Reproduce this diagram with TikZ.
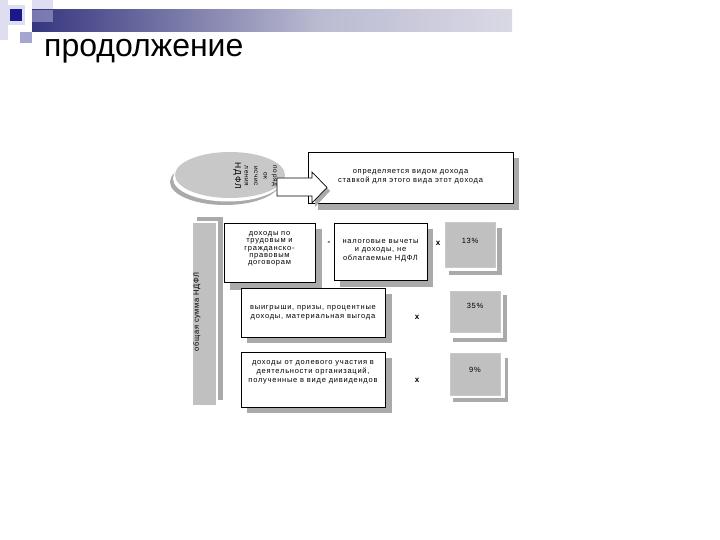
\documentclass[tikz,border=0pt]{standalone}
\usepackage{fontspec}
\setmainfont{Liberation Sans}
\newfontfamily\dfont[LetterSpace=10]{Liberation Sans}
\usetikzlibrary{calc,shapes.geometric}
\definecolor{navyb}{RGB}{30,30,112}
\definecolor{midlav}{RGB}{150,150,185}
\definecolor{lightlav}{RGB}{222,222,240}
\definecolor{medlav}{RGB}{165,165,210}
\definecolor{darkbl}{RGB}{25,25,140}
\definecolor{boxgray}{RGB}{192,192,192}
\definecolor{shgray}{RGB}{170,170,170}
\definecolor{ellgray}{RGB}{200,200,200}
\pgfdeclarehorizontalshading{hdr}{100bp}{color(0bp)=(navyb); color(25bp)=(navyb!80!midlav); color(55bp)=(midlav!65!white); color(100bp)=(white)}
\newcommand{\mylift}[2]{\raisebox{#1}[0pt][0pt]{\begin{tabular}{@{}c@{}}#2\end{tabular}}}
\tikzset{
  wbox/.style={draw=black, fill=white, line width=0.7pt, inner sep=0pt,
    font=\dfont\fontsize{7.5}{9}\selectfont},
  gbox/.style={fill=boxgray, draw=boxgray!85!white, line width=0.6pt, inner sep=0pt,
    font=\dfont\fontsize{7.5}{9}\selectfont},
  sh/.style={fill=shgray},
  sign/.style={font=\dfont\bfseries\fontsize{8}{9}\selectfont, inner sep=0pt}
}
\begin{document}
\begin{tikzpicture}[x=1pt,y=-1pt]
\useasboundingbox[fill=white] (0,0) rectangle (720,540);
% header decoration
\fill[lightlav] (0,0) rectangle (8,40);
\fill[lightlav] (7,5) rectangle (25,25);
\fill[darkbl] (10,9) rectangle (22,21);
\fill[lightlav] (32,0) rectangle (53,11);
\path[shading=hdr] (32,10) rectangle (512,32);
\fill[medlav, opacity=0.6] (32,10) rectangle (53,22);
\fill[medlav] (20,32) rectangle (32,43);
\node[anchor=base west, inner sep=0pt, font=\fontsize{32}{36}\selectfont] (title) at (44,57) {продолжение};

% ellipse with shadow
\node[ellipse, fill=shgray, minimum width=110pt, minimum height=46pt] (ellsh) at (225,182) {};
\node[ellipse, fill=white, minimum width=110pt, minimum height=46pt] (ellw) at (228,178.5) {};
\node[ellipse, fill=ellgray, minimum width=110pt, minimum height=46pt] (ell) at (230,175) {};
\node[rotate=-90, align=center, inner sep=0pt, font=\dfont\fontsize{6.5}{9.5}\selectfont] (elltxt) at (255,176)
  {поряд\\ок\\исчис\\ления\\{\fontsize{8.5}{9.5}\selectfont НДФЛ}};

% top box
\fill[sh] (318,158) rectangle (519,210);
\node[wbox, minimum width=205pt, minimum height=51pt] (tb) at (410.5,177.5)
  {\mylift{-0.9pt}{определяется видом дохода\\ставкой для этого вида этот дохода}};

% block arrow
\fill[shgray] (315,176) -- (330,191) -- (315,207) -- cycle;
\draw[fill=white, line width=0.7pt] (277,178) -- (312,178) -- (312,172) -- (327,187.5) -- (312,203) -- (312,196) -- (277,196) -- cycle;

% left vertical bar
\fill[sh] (197,217) rectangle (223,400);
\fill[white] (193,221) rectangle (218,405);
\node[fill=boxgray, minimum width=23pt, minimum height=182pt, inner sep=0pt] (bar) at (204.5,314) {};
\node[rotate=90, inner sep=0pt, font=\dfont\fontsize{7.5}{8}\selectfont] (bartxt) at (197,312) {общая сумма НДФЛ};

% box 1
\fill[sh] (230,229) rectangle (322,290);
\node[wbox, minimum width=91pt, minimum height=59pt] (b1) at (269.5,252.5)
  {\fontsize{7.5}{7.4}\selectfont\mylift{2.1pt}{доходы по\\трудовым и\\гражданско-\\правовым\\договорам}};
\node[sign] (minus) at (329,243) {-};

% box 2
\fill[sh] (340,229) rectangle (433,287);
\node[wbox, minimum width=93pt, minimum height=57pt] (b2) at (380.5,251.5)
  {\fontsize{7.5}{8.5}\selectfont\mylift{-0.4pt}{налоговые вычеты\\и доходы, не\\облагаемые НДФЛ}};
\node[sign] (x1) at (438,243) {x};

% 13%
\fill[sh] (449,228) rectangle (502,275);
\fill[white] (445,222) rectangle (497,271);
\node[gbox, minimum width=50pt, minimum height=45pt] (p13) at (470,244.5) {\mylift{0.6pt}{13\%}};

% box 3
\fill[sh] (247,294) rectangle (392,343);
\node[wbox, minimum width=144pt, minimum height=49pt] (b3) at (313,312.5)
  {\mylift{-1.9pt}{выигрыши, призы, процентные\\доходы, материальная выгода}};
\node[sign] (x2) at (417,317) {x};

% 35%
\fill[sh] (453,295) rectangle (507,342);
\fill[white] (450,291) rectangle (503,338);
\node[gbox, minimum width=50pt, minimum height=41pt] (p35) at (475,311.5) {\mylift{2.6pt}{35\%}};

% box 4
\fill[sh] (247,358) rectangle (392,413);
\node[wbox, minimum width=144pt, minimum height=55pt] (b4) at (313,379.5)
  {\mylift{5.6pt}{доходы от долевого участия в\\деятельности организаций,\\полученные в виде дивидендов}};
\node[sign] (x3) at (417,380) {x};

% 9%
\fill[sh] (453,358) rectangle (508,402);
\fill[white] (450,353) rectangle (505,398);
\node[gbox, minimum width=50pt, minimum height=42pt] (p9) at (475,374) {\mylift{1.1pt}{9\%}};
\end{tikzpicture}
\end{document}
